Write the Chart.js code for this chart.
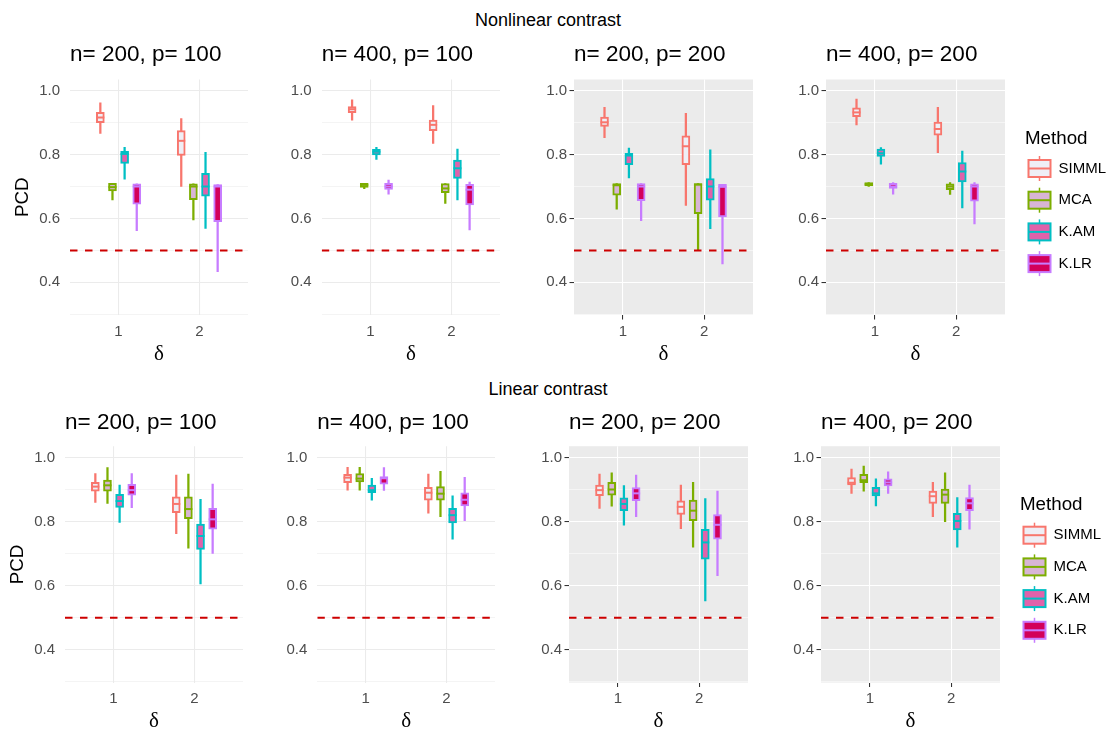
<!DOCTYPE html>
<html>
<head>
<meta charset="utf-8"/>
<script src="https://cdn.jsdelivr.net/npm/chart.js@4.4.0/dist/chart.umd.min.js"></script>
<style>
  body { margin:0; width:1112px; height:733px; overflow:hidden; background:#fff; font-family:"Liberation Sans", Arial, sans-serif; }
  canvas { position:absolute; }
  .strip { position:absolute; left:0; width:1096px; text-align:center; font-size:18px; line-height:22px; color:#000; }
</style>
</head>
<body>
<div class="strip" style="top:9px">Nonlinear contrast</div>
<div class="strip" style="top:378px">Linear contrast</div>
<canvas id="p1"></canvas>
<canvas id="p2"></canvas>
<canvas id="p3"></canvas>
<canvas id="p4"></canvas>
<canvas id="p5"></canvas>
<canvas id="p6"></canvas>
<canvas id="p7"></canvas>
<canvas id="p8"></canvas>
<script>
const methods = ['SIMML', 'MCA', 'K.AM', 'K.LR'];
const deltas = [1, 2];
const edgeColors = ['#F8766D', '#7CAE00', '#00BFC4', '#C77CFF'];
const fillColors = ['#EFEEF5', '#D8B5D5', '#E062AA', '#D3005A'];

// rows: [lower whisker, Q1, median, Q3, upper whisker]
// first 4 rows delta = 1 (SIMML, MCA, K.AM, K.LR), next 4 rows delta = 2
const nonlin_n200_p100 = [
  [0.866, 0.900, 0.916, 0.932, 0.962],
  [0.658, 0.686, 0.698, 0.710, 0.710],
  [0.723, 0.772, 0.802, 0.810, 0.823],
  [0.562, 0.645, 0.700, 0.708, 0.708],
  [0.700, 0.797, 0.843, 0.875, 0.913],
  [0.595, 0.659, 0.700, 0.708, 0.708],
  [0.569, 0.670, 0.700, 0.741, 0.807],
  [0.433, 0.590, 0.700, 0.706, 0.706]
];
const nonlin_n400_p100 = [
  [0.908, 0.931, 0.942, 0.950, 0.971],
  [0.693, 0.697, 0.705, 0.710, 0.710],
  [0.785, 0.799, 0.809, 0.816, 0.823],
  [0.676, 0.691, 0.700, 0.710, 0.720],
  [0.835, 0.875, 0.893, 0.908, 0.953],
  [0.647, 0.681, 0.694, 0.709, 0.709],
  [0.658, 0.725, 0.757, 0.783, 0.817],
  [0.564, 0.642, 0.690, 0.707, 0.714]
];
const nonlin_n200_p200 = [
  [0.853, 0.888, 0.901, 0.917, 0.948],
  [0.629, 0.673, 0.704, 0.709, 0.709],
  [0.727, 0.768, 0.797, 0.804, 0.820],
  [0.593, 0.656, 0.700, 0.709, 0.709],
  [0.641, 0.768, 0.826, 0.859, 0.929],
  [0.500, 0.615, 0.706, 0.709, 0.709],
  [0.568, 0.657, 0.700, 0.725, 0.815],
  [0.458, 0.605, 0.699, 0.707, 0.707]
];
const nonlin_n400_p200 = [
  [0.893, 0.919, 0.932, 0.946, 0.974],
  [0.700, 0.702, 0.707, 0.712, 0.712],
  [0.770, 0.794, 0.804, 0.817, 0.822],
  [0.676, 0.694, 0.700, 0.710, 0.712],
  [0.806, 0.861, 0.880, 0.902, 0.948],
  [0.675, 0.690, 0.700, 0.708, 0.712],
  [0.633, 0.714, 0.747, 0.775, 0.811],
  [0.583, 0.654, 0.700, 0.708, 0.712]
];
const lin_n200_p100 = [
  [0.860, 0.895, 0.909, 0.922, 0.950],
  [0.857, 0.895, 0.913, 0.929, 0.968],
  [0.797, 0.844, 0.864, 0.885, 0.914],
  [0.843, 0.882, 0.898, 0.916, 0.950],
  [0.762, 0.828, 0.855, 0.877, 0.945],
  [0.717, 0.809, 0.839, 0.877, 0.948],
  [0.606, 0.713, 0.755, 0.792, 0.869],
  [0.701, 0.776, 0.807, 0.841, 0.917]
];
const lin_n400_p100 = [
  [0.898, 0.921, 0.937, 0.947, 0.969],
  [0.898, 0.924, 0.934, 0.950, 0.969],
  [0.867, 0.890, 0.898, 0.914, 0.935],
  [0.897, 0.917, 0.935, 0.940, 0.968],
  [0.826, 0.867, 0.890, 0.907, 0.948],
  [0.815, 0.867, 0.887, 0.909, 0.957],
  [0.745, 0.796, 0.820, 0.841, 0.880],
  [0.803, 0.849, 0.868, 0.890, 0.938]
];
const lin_n200_p200 = [
  [0.841, 0.881, 0.898, 0.914, 0.948],
  [0.848, 0.882, 0.900, 0.922, 0.952],
  [0.789, 0.834, 0.855, 0.874, 0.912],
  [0.815, 0.865, 0.888, 0.906, 0.945],
  [0.778, 0.822, 0.846, 0.865, 0.914],
  [0.720, 0.803, 0.834, 0.867, 0.922],
  [0.553, 0.683, 0.735, 0.776, 0.872],
  [0.631, 0.745, 0.790, 0.822, 0.895]
];
const lin_n400_p200 = [
  [0.888, 0.914, 0.921, 0.937, 0.964],
  [0.895, 0.921, 0.929, 0.947, 0.973],
  [0.849, 0.880, 0.888, 0.907, 0.933],
  [0.888, 0.911, 0.922, 0.933, 0.955],
  [0.815, 0.857, 0.879, 0.895, 0.922],
  [0.800, 0.857, 0.884, 0.901, 0.952],
  [0.720, 0.774, 0.802, 0.826, 0.875],
  [0.776, 0.834, 0.857, 0.875, 0.914]
];
const refLine = 0.5;

Chart.defaults.font.family = '"Liberation Sans", Arial, sans-serif';

// grey panel background
const panelBg = {
  id: 'panelBg',
  beforeDraw(chart, args, opts) {
    if (!opts.color) return;
    const a = chart.chartArea, ctx = chart.ctx;
    ctx.save();
    ctx.fillStyle = opts.color;
    ctx.fillRect(a.left, a.top, a.right - a.left, a.bottom - a.top);
    ctx.restore();
  }
};

// median bars on top of the boxes
const medians = {
  id: 'medians',
  afterDatasetsDraw(chart) {
    const ctx = chart.ctx, ys = chart.scales.y;
    chart.data.datasets.forEach((ds, k) => {
      if (!ds.isBox) return;
      chart.getDatasetMeta(k).data.forEach((bar, j) => {
        const py = ys.getPixelForValue(ds.data[j].med);
        ctx.save();
        ctx.strokeStyle = ds.borderColor;
        ctx.lineWidth = 2;
        ctx.beginPath();
        ctx.moveTo(bar.x - bar.width / 2, py);
        ctx.lineTo(bar.x + bar.width / 2, py);
        ctx.stroke();
        ctx.restore();
      });
    });
  }
};

// ggplot style legend with boxplot keys
const boxLegend = {
  id: 'boxLegend',
  afterDraw(chart, args, opts) {
    if (!opts.show) return;
    const ctx = chart.ctx, a = chart.chartArea;
    ctx.save();
    ctx.textBaseline = 'middle';
    ctx.textAlign = 'left';
    ctx.fillStyle = '#000';
    ctx.font = '18.75px "Liberation Sans"';
    ctx.fillText('Method', a.right + 20, a.top + 59);
    methods.forEach((m, i) => {
      const cy = a.top + 89 + i * 31.7;
      const kx = a.right + 22.5, kw = 24;
      ctx.strokeStyle = edgeColors[i];
      ctx.lineWidth = 1.5;
      ctx.beginPath();
      ctx.moveTo(kx + kw / 2, cy - 12.5);
      ctx.lineTo(kx + kw / 2, cy + 12.5);
      ctx.stroke();
      ctx.fillStyle = fillColors[i];
      ctx.fillRect(kx + 1, cy - 8.5, kw - 2, 17);
      ctx.lineWidth = 2;
      ctx.strokeRect(kx + 1, cy - 8.5, kw - 2, 17);
      ctx.beginPath();
      ctx.moveTo(kx + 1, cy);
      ctx.lineTo(kx + kw - 1, cy);
      ctx.stroke();
      ctx.fillStyle = '#000';
      ctx.font = '15px "Liberation Sans"';
      ctx.fillText(m, a.right + 53.5, cy);
    });
    ctx.restore();
  }
};

const topRow = { top: 30, h: 342, tpad: { top: 11.5, bottom: 11 }, xh: 57.1 };
const botRow = { top: 398, h: 341, tpad: { top: 11, bottom: 10.2 }, xh: 56.4 };

const panels = [
  { id: 'p1', data: nonlin_n200_p100, title: 'n= 200, p= 100', row: topRow, left: 0, w: 248, yw: 70, ylab: 11.25 },
  { id: 'p2', data: nonlin_n400_p100, title: 'n= 400, p= 100', row: topRow, left: 265, w: 235, yw: 56.7 },
  { id: 'p3', data: nonlin_n200_p200, title: 'n= 200, p= 200', row: topRow, left: 520, w: 233, yw: 54, grey: true },
  { id: 'p4', data: nonlin_n400_p200, title: 'n= 400, p= 200', row: topRow, left: 772, w: 340, yw: 54, grey: true, legend: true, padR: 107 },
  { id: 'p5', data: lin_n200_p100, title: 'n= 200, p= 100', row: botRow, left: 0, w: 243, yw: 65, ylab: 6.25 },
  { id: 'p6', data: lin_n400_p100, title: 'n= 400, p= 100', row: botRow, left: 262, w: 233, yw: 55.3 },
  { id: 'p7', data: lin_n200_p200, title: 'n= 200, p= 200', row: botRow, left: 515, w: 233, yw: 54, grey: true },
  { id: 'p8', data: lin_n400_p200, title: 'n= 400, p= 200', row: botRow, left: 767, w: 345, yw: 54, grey: true, legend: true, padR: 112 }
];

function isMajor(v) {
  return Math.round(v * 10) % 2 === 0;
}

function makePanel(cfg) {
  const cv = document.getElementById(cfg.id);
  cv.width = cfg.w;
  cv.height = cfg.row.h;
  cv.style.left = cfg.left + 'px';
  cv.style.top = cfg.row.top + 'px';
  const grey = !!cfg.grey;
  const gridCol = grey ? '#FFFFFF' : '#EBEBEB';

  const datasets = [{
    type: 'line',
    data: [{ x: 0.4, y: refLine }, { x: 2.6, y: refLine }],
    borderColor: '#CD0000',
    borderWidth: 2,
    borderDash: [7.5, 7.5],
    pointRadius: 0,
    order: 0
  }];
  methods.forEach((m, i) => {
    const off = (i - 1.5) * 0.15;
    datasets.push({
      type: 'bar',
      label: m,
      isBox: true,
      data: deltas.map((d, j) => {
        const r = cfg.data[j * 4 + i];
        return { x: d + off, y: [r[1], r[3]], med: r[2] };
      }),
      backgroundColor: fillColors[i],
      borderColor: edgeColors[i],
      borderWidth: 2,
      borderSkipped: false,
      barThickness: 8,
      grouped: false,
      order: 1
    });
    datasets.push({
      type: 'bar',
      label: m + ' whisker',
      data: deltas.map((d, j) => {
        const r = cfg.data[j * 4 + i];
        return { x: d + off, y: [r[0], r[4]] };
      }),
      backgroundColor: edgeColors[i],
      borderWidth: 0,
      barThickness: 1.6,
      grouped: false,
      order: 2
    });
  });

  new Chart(cv, {
    type: 'bar',
    data: { datasets: datasets },
    options: {
      responsive: false,
      animation: false,
      devicePixelRatio: 1,
      events: [],
      layout: { padding: { left: 0, right: cfg.padR || 0, top: 0, bottom: 0 } },
      plugins: {
        legend: { display: false },
        tooltip: { enabled: false },
        title: {
          display: true,
          text: cfg.title,
          align: 'start',
          fullSize: false,
          color: '#000',
          font: { size: 22.5, weight: 'normal' },
          padding: cfg.row.tpad
        },
        panelBg: { color: grey ? '#EBEBEB' : null },
        boxLegend: { show: !!cfg.legend }
      },
      scales: {
        x: {
          type: 'linear',
          min: 0.4,
          max: 2.6,
          offset: false,
          afterBuildTicks: s => { s.ticks = deltas.map(v => ({ value: v })); },
          afterFit: s => { s.height = cfg.row.xh; },
          border: { display: false },
          grid: {
            offset: false,
            color: gridCol,
            lineWidth: 1.07,
            drawTicks: grey,
            tickLength: 4.5,
            tickColor: '#333333',
            tickWidth: 1.07
          },
          ticks: {
            color: '#4D4D4D',
            font: { size: 15 },
            padding: grey ? 3 : 7.5,
            maxRotation: 0,
            callback: v => String(v)
          },
          title: {
            display: true,
            text: 'δ',
            color: '#000',
            font: { family: '"Liberation Serif", serif', size: 21 },
            padding: { top: 0, bottom: 5.4 }
          }
        },
        y: {
          min: 0.298,
          max: 1.035,
          afterFit: s => { s.width = cfg.yw; },
          border: { display: false },
          grid: {
            color: gridCol,
            lineWidth: c => (c.tick && isMajor(c.tick.value)) ? 1.07 : 0.53,
            drawTicks: grey,
            tickLength: 4.5,
            tickWidth: 1.07,
            tickColor: c => (c.tick && isMajor(c.tick.value)) ? '#333333' : 'rgba(0,0,0,0)'
          },
          ticks: {
            stepSize: 0.1,
            includeBounds: false,
            autoSkip: false,
            color: '#4D4D4D',
            font: { size: 15 },
            padding: grey ? 2.5 : 10,
            callback: v => isMajor(v) ? (Math.round(v * 10) / 10).toFixed(1) : ''
          },
          title: {
            display: cfg.ylab !== undefined,
            text: 'PCD',
            color: '#000',
            font: { size: 18.75 },
            padding: { top: cfg.ylab || 0, bottom: 0 }
          }
        }
      }
    },
    plugins: [panelBg, medians, boxLegend]
  });
}

panels.forEach(makePanel);
</script>
</body>
</html>
